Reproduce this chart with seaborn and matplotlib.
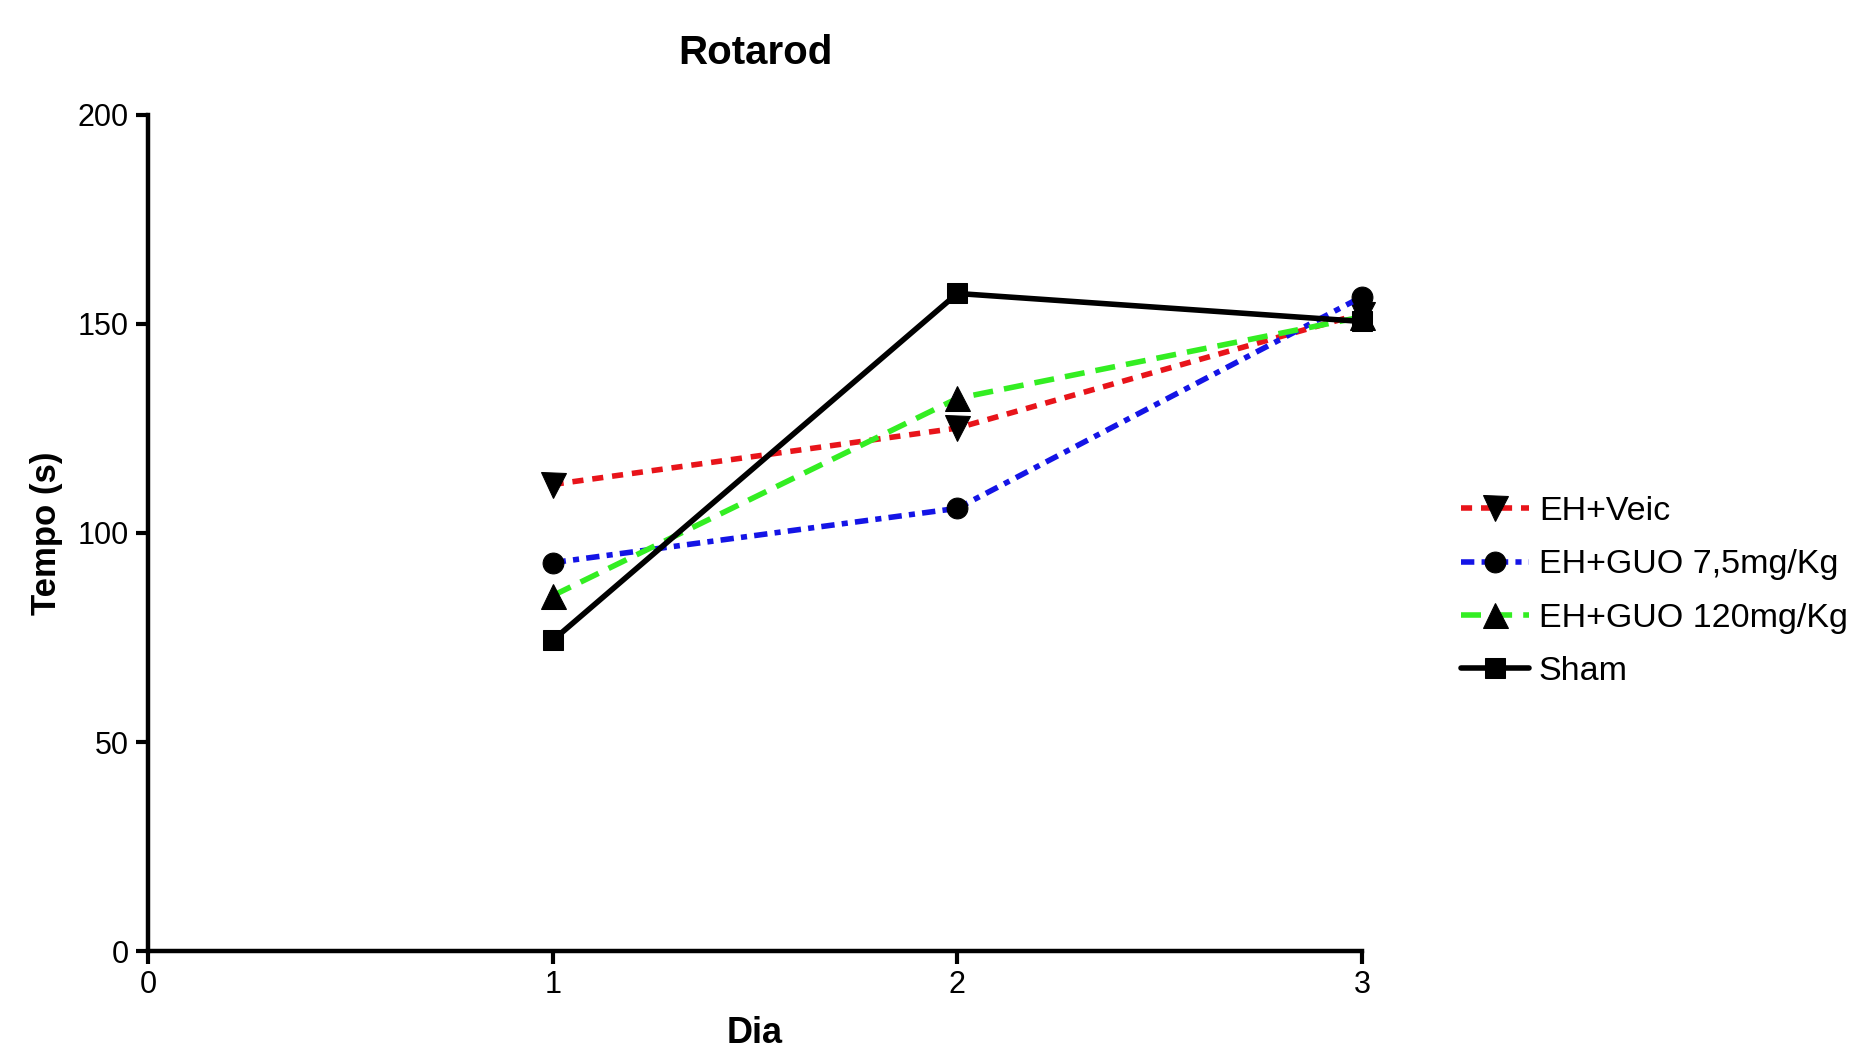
import pandas as pd
import matplotlib
matplotlib.use("Agg")
import matplotlib.pyplot as plt
import seaborn as sns

# Rotarod data
dias = [1, 2, 3]
grupos = ["EH+Veic", "EH+GUO 7,5mg/Kg", "EH+GUO 120mg/Kg", "Sham"]
veic = [111.6, 125.1, 152.5]
guo_75 = [92.9, 105.9, 156.5]
guo_120 = [85.0, 132.2, 151.7]
sham = [74.3, 157.3, 150.6]

x_ticks = [0, 1, 2, 3]
y_ticks = [0, 50, 100, 150, 200]

df = pd.DataFrame({
    "Dia": dias * 4,
    "Tempo": veic + guo_75 + guo_120 + sham,
    "Grupo": [g for g in grupos for _ in dias],
})

sns.set_style("ticks")
plt.rcParams["font.family"] = ["Liberation Sans", "DejaVu Sans"]
plt.rcParams["text.color"] = "black"
plt.rcParams["axes.labelcolor"] = "black"
plt.rcParams["xtick.color"] = "black"
plt.rcParams["ytick.color"] = "black"

cores = {"EH+Veic": "#e8141a", "EH+GUO 7,5mg/Kg": "#1414e6",
         "EH+GUO 120mg/Kg": "#33ee22", "Sham": "#000000"}
marcadores = {"EH+Veic": "v", "EH+GUO 7,5mg/Kg": "o",
              "EH+GUO 120mg/Kg": "^", "Sham": "s"}
tracos = {"EH+Veic": (2.0, 1.6), "EH+GUO 7,5mg/Kg": (2.4, 1.3, 1.1, 1.3),
          "EH+GUO 120mg/Kg": (3.6, 2.0), "Sham": ""}
tamanhos = {"EH+Veic": 18, "EH+GUO 7,5mg/Kg": 15,
            "EH+GUO 120mg/Kg": 18, "Sham": 15}

fig = plt.figure(figsize=(18.52, 10.49), dpi=100)
ax = fig.add_axes([0.0799, 0.0934, 0.6555, 0.797])

sns.lineplot(data=df, x="Dia", y="Tempo", hue="Grupo", style="Grupo",
             hue_order=grupos, style_order=grupos, palette=cores,
             markers=marcadores, dashes=tracos, linewidth=4.0,
             legend=False, ax=ax)

for line, g in zip(ax.lines, grupos):
    line.set_markerfacecolor("black")
    line.set_markeredgecolor("black")
    line.set_markersize(tamanhos[g])
    line.set_clip_on(False)
    if g == "Sham":
        line.set_zorder(3)

ax.set_xlim(0, 3)
ax.set_ylim(0, 200)
ax.set_xticks(x_ticks)
ax.set_yticks(y_ticks)
ax.tick_params(axis="both", labelsize=22, length=9, width=3, direction="out",
               pad=5)
for s in ["left", "bottom"]:
    ax.spines[s].set_linewidth(3.2)
    ax.spines[s].set_color("black")
sns.despine(ax=ax)

ax.set_title("Rotarod", fontsize=29, fontweight="bold", pad=37)
ax.set_xlabel("Dia", fontsize=26, fontweight="bold", labelpad=11)
ax.set_ylabel("Tempo (s)", fontsize=25, fontweight="bold", labelpad=10)

ax.legend(handles=ax.lines, labels=grupos, loc="center left",
          bbox_to_anchor=(1.07, 0.43), frameon=False, fontsize=24.5,
          handlelength=2.0, handletextpad=0.3, labelspacing=0.65,
          borderaxespad=0)

plt.savefig("out.png", dpi=100)
plt.close()
